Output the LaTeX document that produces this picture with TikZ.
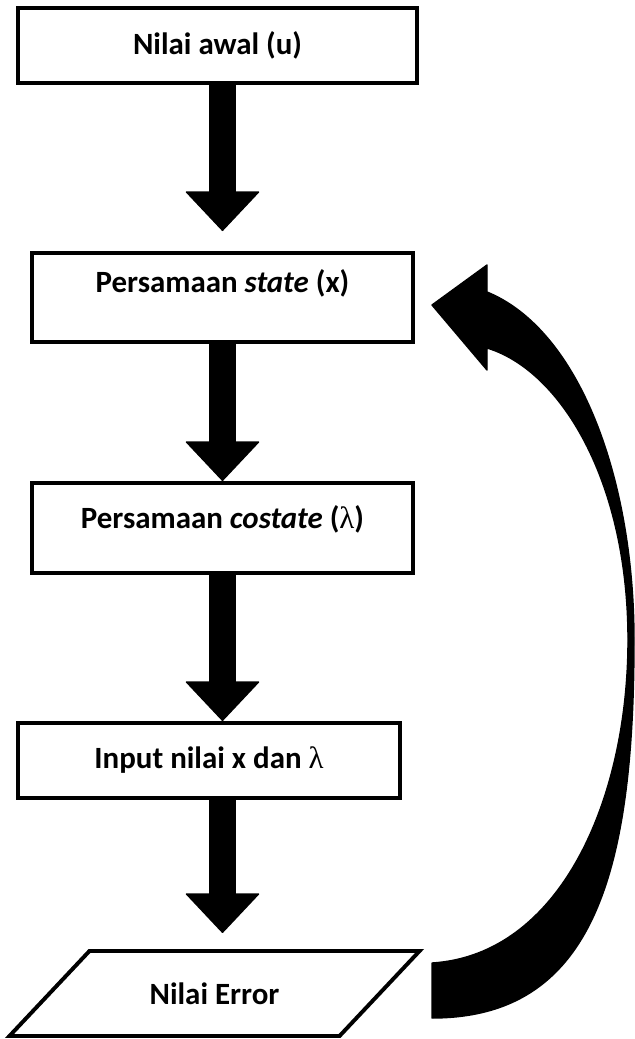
\documentclass[tikz,border=0pt]{standalone}
\usepackage{fontspec}
\setmainfont{Carlito}
\newfontfamily\lamfont{Liberation Serif}
\usetikzlibrary{arrows.meta, calc}
\newcommand{\lam}{{\lamfont\mdseries λ}}

\begin{document}
\begin{tikzpicture}[
    x=0.025cm, y=-0.025cm,
    stepbox/.style={draw, line width=2.8pt, align=center, inner sep=0pt,
        font=\fontsize{22}{26}\selectfont\bfseries},
    iobox/.style={stepbox, draw=none, outer sep=0pt},
    blockarrow/.style={line width=0.65cm,
        -{Triangle[length=1cm, width=1.875cm, line width=1pt, round]}}
]
    \useasboundingbox (0,0) rectangle (635,1039);

    \node[stepbox, minimum width=9.975cm, minimum height=1.875cm] (init)
        at (217.5,45.5) {Nilai awal (u)};
    \node[stepbox, minimum width=9.525cm, minimum height=2.225cm,
        text height=0.5cm, text depth=0.77cm] (state)
        at (222.5,297.5) {Persamaan \textit{state} (x)};
    \node[stepbox, minimum width=9.525cm, minimum height=2.25cm,
        text height=0.5cm, text depth=0.5cm] (costate)
        at (222.5,528) {Persamaan \textit{costate} (\lam)};
    \node[stepbox, minimum width=9.55cm, minimum height=1.875cm] (input)
        at (209,760.5) {Input nilai x dan \lam};
    \node[iobox, minimum width=8.25cm, minimum height=2.125cm] (err)
        at (214.5,993.5) {Nilai Error};
    \draw[line width=2.8pt] ([xshift=1cm]err.north west) -- ([xshift=1cm]err.north east)
        -- ([xshift=-1cm]err.south east) -- ([xshift=-1cm]err.south west) -- cycle;

    \draw[blockarrow, shorten >=0.5cm] (init.south -| state.center) -- (state.north -| state.center);
    \draw[blockarrow] (state.south) -- (costate.north);
    \draw[blockarrow] (costate.south) -- (input.north -| costate.center);
    \draw[blockarrow, shorten >=0.45cm] (input.south -| costate.center) -- (err.north -| costate.center);

    \filldraw[line width=1pt, line join=round]
        (432,963) -- (432,1018) .. controls (590,1018) and (634,880) .. (634,640)
        .. controls (634,480) and (580,330) .. (487,292) -- (487,265) -- (432,305)
        -- (487,370) -- (487,348) .. controls (560,370) and (628,480) .. (628,640)
        .. controls (628,800) and (560,955) .. (432,963) -- cycle;
\end{tikzpicture}
\end{document}
